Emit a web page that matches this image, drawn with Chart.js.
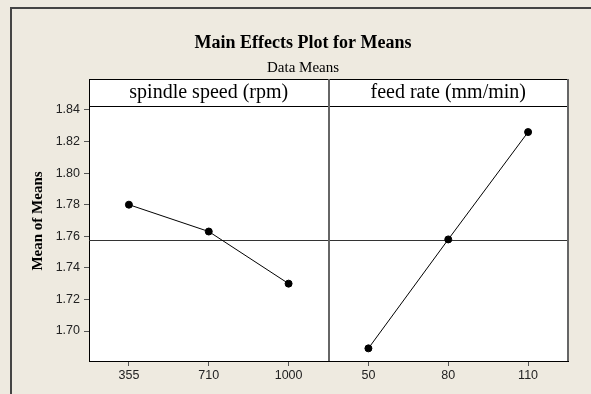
<!DOCTYPE html>
<html>
<head>
<meta charset="utf-8">
<script src="https://cdn.jsdelivr.net/npm/chart.js@4.4.1/dist/chart.umd.min.js"></script>
<style>
  html, body { margin: 0; padding: 0; background: #EEEAE0; }
  #wrap { width: 591px; height: 394px; }
</style>
</head>
<body>
<div id="wrap"><canvas id="grafico"></canvas></div>
<script>
// valores
const panelNames = ["spindle speed (rpm)", "feed rate (mm/min)"];
const spindleLevels = ["355", "710", "1000"];
const feedLevels = ["50", "80", "110"];
const spindleMeans = [1.780, 1.763, 1.730];
const feedMeans = [1.689, 1.758, 1.826];
const yTicks = [1.70, 1.72, 1.74, 1.76, 1.78, 1.80, 1.82, 1.84];

const labels = spindleLevels.concat(feedLevels);
const grandMean = spindleMeans.reduce((a, b) => a + b, 0) / spindleMeans.length;

const tickFont = { family: "'Liberation Sans'", size: 12.5 };
const serif = "'Liberation Serif', 'Times New Roman', serif";

// fundo, moldura, faixa de títulos, linha da média e divisória
const decor = {
  id: "decor",
  beforeDraw(chart) {
    const { ctx, chartArea: a } = chart;
    ctx.save();
    ctx.fillStyle = "#EEEAE0";
    ctx.fillRect(0, 0, chart.width, chart.height);
    ctx.strokeStyle = "#444";
    ctx.lineWidth = 2;
    ctx.strokeRect(11, 8, 640, 440);
    ctx.fillStyle = "#fff";
    ctx.fillRect(a.left, a.top - 27, a.right - a.left, a.bottom - a.top + 27);
    ctx.restore();
  },
  beforeDatasetsDraw(chart) {
    const { ctx, chartArea: a, scales } = chart;
    const y = Math.round(scales.y.getPixelForValue(grandMean)) + 0.5;
    ctx.save();
    ctx.strokeStyle = "#333";
    ctx.lineWidth = 1;
    ctx.beginPath();
    ctx.moveTo(a.left, y);
    ctx.lineTo(a.right, y);
    ctx.stroke();
    ctx.restore();
  },
  afterDraw(chart) {
    const { ctx, chartArea: a, scales } = chart;
    const top = a.top - 27;
    const divX = (scales.x.getPixelForValue(2) + scales.x.getPixelForValue(3)) / 2;
    ctx.save();
    // faixa dos títulos
    ctx.strokeStyle = "#000";
    ctx.lineWidth = 1;
    ctx.beginPath();
    ctx.moveTo(a.left, top + 0.5);
    ctx.lineTo(a.right, top + 0.5);
    ctx.moveTo(a.left, a.top + 0.5);
    ctx.lineTo(a.right, a.top + 0.5);
    ctx.moveTo(a.left + 0.5, top);
    ctx.lineTo(a.left + 0.5, a.top);
    ctx.stroke();
    ctx.strokeStyle = "#666";
    ctx.lineWidth = 2;
    ctx.beginPath();
    ctx.moveTo(Math.round(divX), top);
    ctx.lineTo(Math.round(divX), a.bottom);
    ctx.moveTo(a.right, top);
    ctx.lineTo(a.right, a.bottom);
    ctx.stroke();

    ctx.fillStyle = "#000";
    ctx.textAlign = "center";
    ctx.textBaseline = "middle";
    ctx.font = "20px " + serif;
    ctx.fillText(panelNames[0], (a.left + divX) / 2, top + 14);
    ctx.fillText(panelNames[1], (divX + a.right) / 2, top + 14);

    // título
    ctx.font = "bold 18px " + serif;
    ctx.fillText("Main Effects Plot for Means", 303, 43);
    ctx.font = "15px " + serif;
    ctx.fillText("Data Means", 303, 68);

    // título do eixo y
    ctx.translate(38, 221);
    ctx.rotate(-Math.PI / 2);
    ctx.font = "bold 15px " + serif;
    ctx.fillText("Mean of Means", 0, 0);
    ctx.restore();
  }
};

new Chart(document.getElementById("grafico"), {
  type: "line",
  data: {
    labels: labels,
    datasets: [
      {
        label: panelNames[0],
        data: spindleMeans.concat(feedLevels.map(() => null)),
        borderColor: "#000",
        backgroundColor: "#000",
        borderWidth: 1,
        pointRadius: 3.5,
        spanGaps: false
      },
      {
        label: panelNames[1],
        data: spindleLevels.map(() => null).concat(feedMeans),
        borderColor: "#000",
        backgroundColor: "#000",
        borderWidth: 1,
        pointRadius: 3.5,
        spanGaps: false
      }
    ]
  },
  options: {
    responsive: true,
    maintainAspectRatio: false,
    animation: false,
    layout: { padding: { top: 106, right: 23, left: 0, bottom: 0 } },
    plugins: { legend: { display: false }, tooltip: { enabled: false } },
    scales: {
      x: {
        type: "category",
        offset: true,
        afterFit: s => { s.height = 33; },
        grid: { offset: false, drawOnChartArea: false, tickLength: 5, color: "#555" },
        border: { color: "#000" },
        ticks: { padding: 2, autoSkip: false, maxRotation: 0, font: tickFont, color: "#222" }
      },
      y: {
        min: 1.681,
        max: 1.8425,
        afterFit: s => { s.width = 89; },
        afterBuildTicks: s => { s.ticks = yTicks.map(v => ({ value: v })); },
        grid: { drawOnChartArea: false, tickLength: 5, color: "#555" },
        border: { color: "#000" },
        ticks: { padding: 4, font: tickFont, color: "#222", callback: v => v.toFixed(2) }
      }
    }
  },
  plugins: [decor]
});
</script>
</body>
</html>
